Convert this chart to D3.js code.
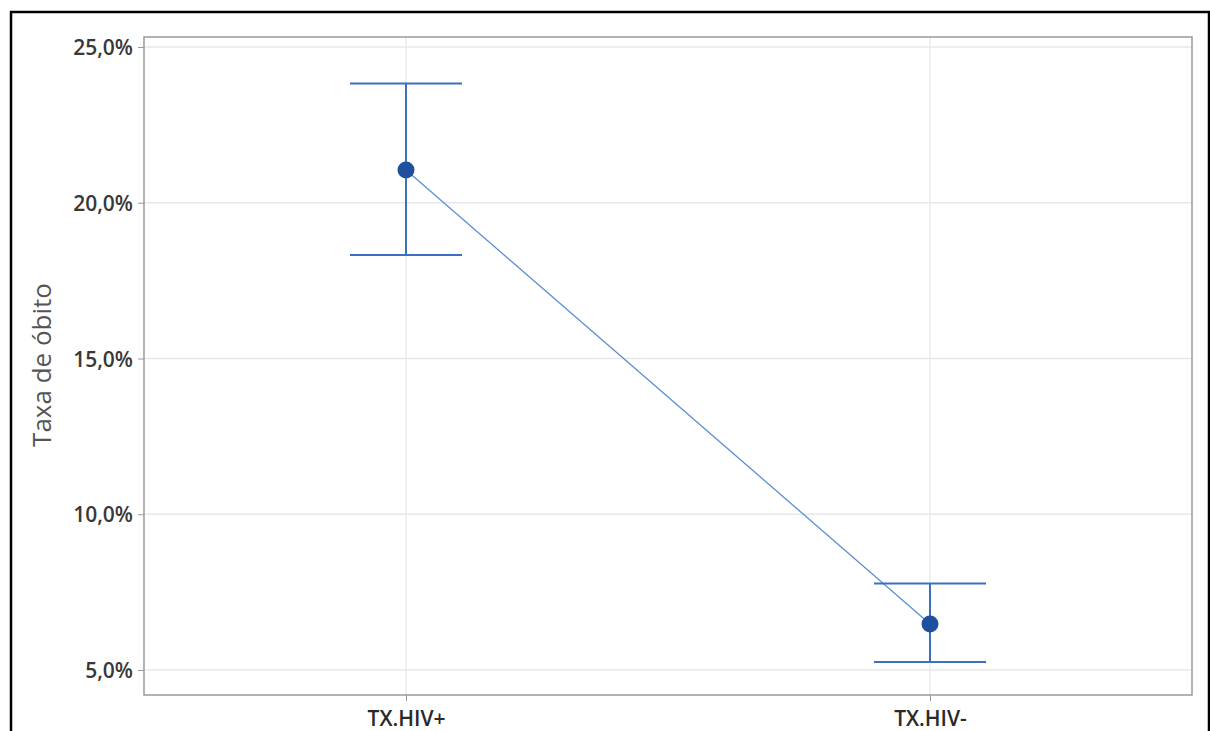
<!DOCTYPE html>
<html>
<head>
<meta charset="utf-8">
<script src="https://cdn.jsdelivr.net/npm/d3@7"></script>
<style>
  html, body { margin: 0; padding: 0; background: #fff; }
  svg { display: block; }
</style>
</head>
<body>
<svg id="chart" width="1210" height="731"></svg>
<script>
// Death rate by group, mean with confidence interval (percent)
const groups = ["TX.HIV+", "TX.HIV-"];
const means = [21.05, 6.48];
const lower = [18.32, 5.26];
const upper = [23.83, 7.78];
const yTicks = [5, 10, 15, 20, 25];
const yLabel = "Taxa de óbito";

const plot = { left: 144, top: 37, right: 1192, bottom: 695 };
const svg = d3.select("#chart");
const font = "'Open Sans', 'Noto Sans', sans-serif";

// outer frame
svg.append("rect")
  .attr("x", 11).attr("y", 12)
  .attr("width", 1198).attr("height", 740)
  .attr("fill", "none").attr("stroke", "#000").attr("stroke-width", 2.5);

// 25% sits at y=47 and 5% at y=670
const pxPerPct = (670 - 47) / 20;
const y = d3.scaleLinear()
  .domain([25 + (47 - plot.top) / pxPerPct, 25 - (plot.bottom - 47) / pxPerPct])
  .range([plot.top, plot.bottom]);
const x = d3.scalePoint().domain(groups)
  .range([plot.left, plot.right]).padding(0.5);

const fmt = v => d3.format(".1f")(v).replace(".", ",") + "%";

// gridlines
const g = svg.append("g");
g.selectAll(".hgrid").data(yTicks).join("line")
  .attr("x1", plot.left).attr("x2", plot.right)
  .attr("y1", d => y(d)).attr("y2", d => y(d))
  .attr("stroke", "#e8e8e8").attr("stroke-width", 1.3);
g.selectAll(".vgrid").data(groups).join("line")
  .attr("x1", d => x(d)).attr("x2", d => x(d))
  .attr("y1", plot.top).attr("y2", plot.bottom)
  .attr("stroke", "#e8e8e8").attr("stroke-width", 1.3);

// plot border
svg.append("rect")
  .attr("x", plot.left).attr("y", plot.top)
  .attr("width", plot.right - plot.left).attr("height", plot.bottom - plot.top)
  .attr("fill", "none").attr("stroke", "#9a9a9a").attr("stroke-width", 1.5);

// y axis
const yAxis = svg.append("g")
  .attr("transform", `translate(${plot.left},0)`)
  .call(d3.axisLeft(y).tickValues(yTicks).tickFormat(fmt).tickSize(6).tickPadding(5));
yAxis.select(".domain").remove();
yAxis.selectAll(".tick line").attr("stroke", "#9a9a9a");
yAxis.selectAll(".tick text")
  .attr("font-family", font).attr("font-size", 21).attr("font-weight", 600)
  .attr("fill", "#383838").attr("dy", "0.36em");

// x axis
const xAxis = svg.append("g")
  .attr("transform", `translate(0,${plot.bottom})`)
  .call(d3.axisBottom(x).tickSize(6).tickPadding(10));
xAxis.select(".domain").remove();
xAxis.selectAll(".tick line").attr("stroke", "#9a9a9a");
xAxis.selectAll(".tick text")
  .attr("font-family", font).attr("font-size", 21).attr("font-weight", 600)
  .attr("fill", "#2a2a2a");

// y label
svg.append("text")
  .attr("transform", `translate(51,${365}) rotate(-90)`)
  .attr("text-anchor", "middle")
  .attr("font-family", font).attr("font-size", 26).attr("fill", "#555")
  .text(yLabel);

const data = groups.map((gname, i) => ({ g: gname, m: means[i], lo: lower[i], hi: upper[i] }));

// connecting line
svg.append("path")
  .datum(data)
  .attr("d", d3.line().x(d => x(d.g)).y(d => y(d.m)))
  .attr("fill", "none").attr("stroke", "#5b8fd3").attr("stroke-width", 1.3);

// error bars
const capHalf = 56;
const eb = svg.append("g").attr("stroke", "#3b6fc1").attr("stroke-width", 2);
eb.selectAll(".v").data(data).join("line")
  .attr("x1", d => x(d.g)).attr("x2", d => x(d.g))
  .attr("y1", d => y(d.hi)).attr("y2", d => y(d.lo));
eb.selectAll(".top").data(data).join("line")
  .attr("x1", d => x(d.g) - capHalf).attr("x2", d => x(d.g) + capHalf)
  .attr("y1", d => y(d.hi)).attr("y2", d => y(d.hi));
eb.selectAll(".bot").data(data).join("line")
  .attr("x1", d => x(d.g) - capHalf).attr("x2", d => x(d.g) + capHalf)
  .attr("y1", d => y(d.lo)).attr("y2", d => y(d.lo));

// means
svg.selectAll(".pt").data(data).join("circle")
  .attr("cx", d => x(d.g)).attr("cy", d => y(d.m))
  .attr("r", 8.5).attr("fill", "#1f4f9f");
</script>
</body>
</html>
